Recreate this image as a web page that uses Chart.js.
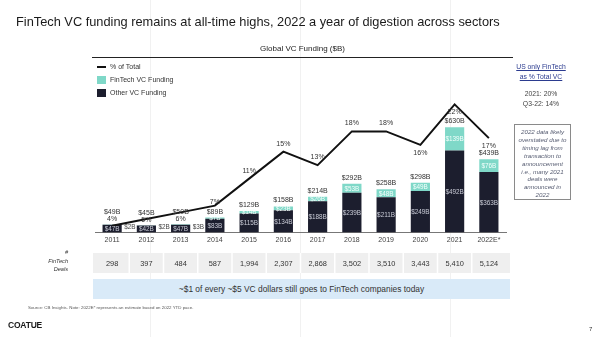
<!DOCTYPE html>
<html lang="en">
<head>
<meta charset="UTF-8">
<title>FinTech VC funding</title>
<script src="https://cdn.jsdelivr.net/npm/chart.js"></script>
<style>
  html, body { margin: 0; padding: 0; }
  body {
    width: 600px; height: 337px; position: relative; overflow: hidden;
    background: #fff; color: #222;
    font-family: "Liberation Sans", Arial, sans-serif;
  }
  .guide { position: absolute; top: 0; bottom: 0; width: 1px; background: #f1f1f1; }
  #chart { position: absolute; left: 0; top: 0; }
  .abs { position: absolute; white-space: nowrap; }
  .title { left: 16px; top: 14px; font-size: 12.8px; color: #1a1a1a; }
  .subtitle { left: 92px; width: 421px; top: 44px; text-align: center; font-size: 8px; color: #222;
    border-bottom: 1.5px solid #222; padding-bottom: 4px; }
  .legend { left: 97px; font-size: 7px; color: #333; }
  .legend i { display: inline-block; width: 9px; vertical-align: middle; margin-right: 4px; }
  .us { left: 510px; width: 62px; top: 62px; text-align: center; font-size: 6.8px; line-height: 9.5px; color: #2b3b8f; text-decoration: underline; }
  .us2 { left: 510px; width: 62px; top: 89px; text-align: center; font-size: 6.8px; line-height: 9.5px; color: #444; }
  .note { left: 514px; top: 124px; width: 57px; height: 76px; border: 1.5px solid #8a8a8a; box-sizing: border-box;
    text-align: center; font-size: 6.2px; line-height: 7.9px; font-style: italic; color: #555b70; padding-top: 3px; }
  .deals { left: 30px; width: 38px; top: 248px; text-align: right; font-size: 5.6px; line-height: 8.6px; font-style: italic; color: #333; }
  .callout { left: 93px; top: 279px; width: 417px; height: 20px; line-height: 20px; background: #d9eaf8;
    text-align: center; font-size: 8.4px; color: #333; }
  .source { left: 28px; top: 305px; font-size: 4.4px; color: #555; }
  .logo { left: 8px; top: 320px; font-size: 8.5px; font-weight: bold; color: #1a1a1a; letter-spacing: -0.2px; }
  .page { left: 589px; top: 326px; font-size: 6px; color: #333; }
</style>
</head>
<body>
<div class="guide" style="left:150px"></div>
<div class="guide" style="left:300px"></div>
<div class="guide" style="left:450px"></div>

<canvas id="chart" width="600" height="337"></canvas>

<div class="abs title">FinTech VC funding remains at all-time highs, 2022 a year of digestion across sectors</div>
<div class="abs subtitle">Global VC Funding ($B)</div>

<div class="abs legend" style="top:63px"><i style="height:2px;background:#111"></i>% of Total</div>
<div class="abs legend" style="top:76px"><i style="height:8px;background:#7fd8c8"></i>FinTech VC Funding</div>
<div class="abs legend" style="top:89px"><i style="height:8px;background:#1c1e2e"></i>Other VC Funding</div>

<div class="abs us">US only FinTech<br>as % Total VC</div>
<div class="abs us2">2021: 20%<br>Q3-22: 14%</div>
<div class="abs note">2022 data likely<br>overstated due to<br>timing lag from<br>transaction to<br>announcement<br>i.e., many 2021<br>deals were<br>announced in<br>2022</div>

<div class="abs deals">#<br>FinTech<br>Deals</div>
<div class="abs callout">~$1 of every ~$5 VC dollars still goes to FinTech companies today</div>
<div class="abs source">Source: CB Insights. Note: 2022E* represents an estimate based on 2022 YTD pace.</div>
<div class="abs logo">COATUE</div>
<div class="abs page">7</div>

<script>
  const years = ['2011', '2012', '2013', '2014', '2015', '2016', '2017', '2018', '2019', '2020', '2021', '2022E*'];
  const otherVC = [47, 42, 47, 83, 115, 134, 188, 239, 211, 249, 492, 363];
  const fintechVC = [2, 2, 3, 7, 14, 23, 26, 53, 48, 49, 139, 76];
  const totalVC = [49, 45, 50, 89, 129, 158, 214, 292, 258, 298, 630, 439];
  const pctTotal = [4, 5, 6, 7, 11, 15, 13, 18, 18, 16, 22, 17];
  const fintechDeals = [298, 397, 484, 587, 1994, 2307, 2868, 3502, 3510, 3443, 5410, 5124];

  const FONT = '"Liberation Sans", Arial, sans-serif';

  // value labels, % labels and the deals row
  const labelPlugin = {
    id: 'valueLabels',
    afterDatasetsDraw(chart) {
      const { ctx, scales: { x, y, y1 } } = chart;
      const base = y.getPixelForValue(0);
      ctx.save();
      ctx.textBaseline = 'middle';

      years.forEach((yr, i) => {
        const cx = x.getPixelForValue(i);
        const yOther = y.getPixelForValue(otherVC[i]);
        const yTop = y.getPixelForValue(otherVC[i] + fintechVC[i]);
        const yPct = y1.getPixelForValue(pctTotal[i]);

        ctx.font = '6.4px ' + FONT;
        ctx.textAlign = 'center';
        ctx.fillStyle = '#c9cbd6';
        ctx.fillText('$' + otherVC[i] + 'B', cx, (base + yOther) / 2 + 0.5);

        if (fintechVC[i] < 5) {
          ctx.textAlign = 'left';
          ctx.fillStyle = '#444';
          ctx.fillText('$' + fintechVC[i] + 'B', cx + 12, base - 5);
        } else {
          ctx.fillStyle = '#f4fffc';
          ctx.fillText('$' + fintechVC[i] + 'B', cx, (yOther + yTop) / 2 + 0.5);
        }

        ctx.textAlign = 'center';
        ctx.fillStyle = '#333';
        ctx.font = '7px ' + FONT;
        let totalY, pctY;
        if (i < 3) {
          pctY = yTop - 5;
          totalY = yTop - 12;
        } else if (i === 3) {
          totalY = yTop - 6;
          pctY = yPct - 4;
        } else if (i < 9) {
          totalY = yTop - 6;
          pctY = yPct - 8;
        } else {
          totalY = yTop - 6;
          pctY = yPct + 8;
        }
        ctx.fillText('$' + totalVC[i] + 'B', cx, totalY);
        ctx.fillText(pctTotal[i] + '%', cx, pctY);
      });
      ctx.restore();
    },
    afterDraw(chart) {
      const { ctx, scales: { x } } = chart;
      const rowTop = 253, rowH = 20;
      ctx.save();
      ctx.fillStyle = '#efefef';
      ctx.fillRect(x.left - 2, rowTop, x.right - x.left + 6, rowH);
      ctx.strokeStyle = '#fff';
      ctx.lineWidth = 1.5;
      for (let i = 1; i < years.length; i++) {
        const sx = (x.getPixelForValue(i - 1) + x.getPixelForValue(i)) / 2;
        ctx.beginPath();
        ctx.moveTo(sx, rowTop);
        ctx.lineTo(sx, rowTop + rowH);
        ctx.stroke();
      }
      ctx.fillStyle = '#333';
      ctx.font = '7.4px ' + FONT;
      ctx.textAlign = 'center';
      ctx.textBaseline = 'middle';
      fintechDeals.forEach((d, i) => {
        ctx.fillText(d.toLocaleString('en-US'), x.getPixelForValue(i), rowTop + rowH / 2 + 0.5);
      });
      ctx.restore();
    }
  };

  new Chart(document.getElementById('chart'), {
    type: 'bar',
    data: {
      labels: years,
      datasets: [
        {
          type: 'line',
          label: '% of Total',
          data: pctTotal,
          yAxisID: 'y1',
          borderColor: '#111',
          borderWidth: 2,
          pointRadius: 0,
          tension: 0,
          order: 0
        },
        {
          label: 'Other VC Funding',
          data: otherVC,
          backgroundColor: '#1c1e2e',
          yAxisID: 'y',
          order: 1
        },
        {
          label: 'FinTech VC Funding',
          data: fintechVC,
          backgroundColor: '#7fd8c8',
          yAxisID: 'y',
          order: 1
        }
      ]
    },
    options: {
      responsive: false,
      animation: false,
      layout: { padding: { left: 95, right: 94, top: 99, bottom: 90 } },
      datasets: { bar: { categoryPercentage: 1, barPercentage: 0.56 } },
      plugins: { legend: { display: false }, tooltip: { enabled: false } },
      scales: {
        x: {
          stacked: true,
          grid: { display: false, drawTicks: false },
          border: { display: true, color: '#777', width: 1 },
          ticks: { color: '#444', padding: 3, font: { size: 7, family: FONT } }
        },
        y: { stacked: true, display: false, min: 0, max: 800 },
        y1: { display: false, min: 3, max: 22.8 }
      }
    },
    plugins: [labelPlugin]
  });
</script>
</body>
</html>
